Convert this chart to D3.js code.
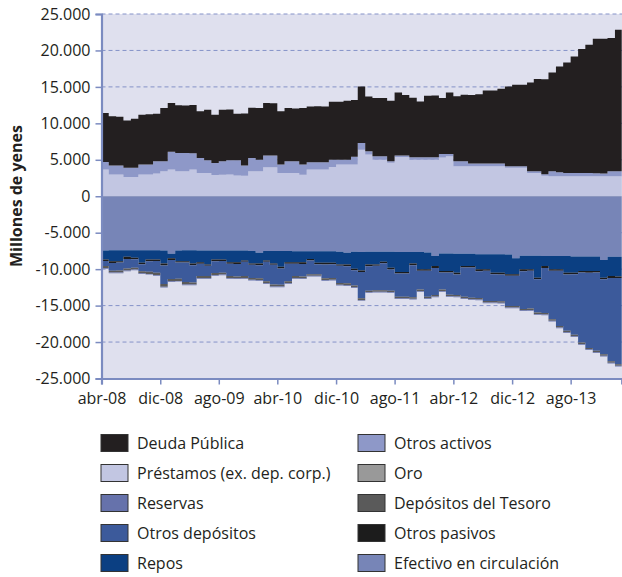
<!DOCTYPE html>
<html><head><meta charset="utf-8">
<script src="https://cdn.jsdelivr.net/npm/d3@7"></script>
<style>
html,body{margin:0;padding:0;background:#fff;}
svg{display:block;font-family:"Open Sans",sans-serif;}
</style></head>
<body><svg id="c" width="622" height="577"></svg>
<script>
// ---- DATA (monthly, abr-2008 ... mar-2014), units as in the chart ----
const startMonth = "2008-04-01";
const nMonths = 72;

// Assets (positive side), stacked upward from 0
const oro = [44,44,44,44,44,44,44,44,44,44,44,44,44,44,44,44,44,44,44,44,44,44,44,44,44,44,44,44,44,44,44,44,44,44,44,44,44,44,44,44,44,44,44,44,44,44,44,44,44,44,44,44,44,44,44,44,44,44,44,44,44,44,44,44,44,44,44,44,44,44,44,44];
const prestamos = [3610,2930,2930,2610,2610,2930,2930,3060,3380,3610,3380,3380,3610,3160,3160,2860,2910,2930,2810,2760,3380,3380,3930,3930,3160,3160,3160,2910,3610,3610,3610,3960,4300,4300,4300,6350,5670,4980,4980,4560,5350,5350,4980,4980,4980,4980,5260,5460,4070,4070,4070,4070,4070,4070,4070,3850,3850,3850,3160,3160,2760,2700,2700,2700,2700,2700,2700,2700,2700,2700,2700,2700];
const otrosActivos = [1030,1230,1230,1240,1250,1370,1370,1690,1370,2450,2520,2520,2250,2060,1730,1670,1850,1960,2080,1400,1840,1580,1600,1600,1140,1590,1590,1390,1010,1010,1010,1020,680,680,1090,920,450,460,460,190,180,180,320,320,320,320,500,300,680,680,370,370,370,370,370,220,220,220,220,220,200,680,560,460,460,460,460,410,360,680,680,680];
const deudaPublica = [6740,6780,6700,6510,6740,6840,6910,6510,7310,6700,6550,6510,6600,6380,6940,6620,7070,6970,6390,7150,6880,7100,7220,7180,7300,7310,7260,7760,7660,7690,7640,7940,7930,8080,7770,7750,7530,7990,7990,8310,8670,8330,8170,7660,8450,8460,7670,8440,8910,9130,9420,9520,10030,10020,10260,10950,11180,11190,12180,12650,13050,13560,14500,15140,15970,16980,17570,18440,18500,18280,19400,19850];

// Liabilities (negative side), magnitudes, stacked downward from 0
const efectivo = [7450,7400,7400,7400,7400,7400,7400,7400,7450,7900,7450,7400,7400,7450,7450,7450,7450,7450,7450,7450,7500,7750,7500,7500,7500,7500,7550,7550,7550,7550,7550,7550,7600,7750,7600,7650,7620,7620,7620,7620,7650,7650,7650,7650,7700,8200,7850,7850,7900,7900,7900,7950,7950,7950,7950,8000,8500,8150,8150,8150,8200,8200,8200,8200,8250,8250,8250,8250,8750,8300,8300,8350];
const repos = [1220,1500,1500,900,1050,1720,1270,1270,1760,600,1450,1500,1810,1600,1900,1220,1220,1600,1600,1350,1710,1460,1300,1710,2170,1550,1500,1500,1050,1570,1570,1570,1750,1600,2340,2550,1730,1730,1380,2180,2750,2750,1560,2380,2330,1380,2410,2410,2600,1680,1680,2080,2080,2540,2540,2700,2200,1880,1880,3020,1380,1830,1830,2290,2240,2010,2010,2010,2420,2650,2700,3510];
const otrosPasivos = [200,250,200,300,200,200,250,200,300,250,200,200,250,200,200,250,200,200,250,200,200,250,200,200,250,200,200,250,200,200,250,200,200,250,200,200,250,200,200,250,200,200,250,200,200,250,200,200,250,200,200,250,200,200,250,200,200,250,200,200,250,200,200,250,200,200,250,200,200,250,200,200];
const otrosDepositos = [710,1070,1070,1300,1150,980,1430,1630,2540,2610,2210,2670,2360,1700,1400,1620,1620,1700,1700,1950,1790,1790,2650,2680,2220,2400,1700,1700,1900,1380,1880,1880,2350,2350,2090,3600,3350,3350,3700,2900,3200,3200,4390,2570,3570,3720,2340,3040,2800,4020,4130,3680,4140,3680,3680,4160,4160,5170,5170,4590,6180,6650,7570,7710,8310,9610,10290,10740,10300,11440,11840,11660];
const depositosTesoro = [250,250,300,300,250,250,300,300,350,300,300,350,300,250,250,250,250,250,250,250,250,250,300,300,250,250,250,250,200,200,250,250,250,250,250,250,200,200,200,200,200,200,200,200,200,200,200,200,200,200,200,200,200,200,200,200,200,200,200,200,200,200,200,200,200,200,200,200,200,200,200,200];
const reservas = [100,100,100,100,100,100,100,100,100,100,100,100,100,100,100,100,100,100,100,100,100,100,100,100,100,100,100,100,100,100,100,100,100,100,100,100,100,100,100,100,100,100,100,100,100,100,100,100,100,100,100,100,100,100,100,100,100,100,100,100,100,100,100,100,100,100,100,100,100,100,100,100];

const yTicks = [25000,20000,15000,10000,5000,0,-5000,-10000,-15000,-20000,-25000];
const gridDashed = [25000,20000,15000,10000,5000,-5000,-10000,-15000,-20000];
const xTickDates = ["2008-04-01","2008-12-01","2009-08-01","2010-04-01","2010-12-01","2011-08-01","2012-04-01","2012-12-01","2013-08-01"];
const xTickLabels = ["abr-08","dic-08","ago-09","abr-10","dic-10","ago-11","abr-12","dic-12","ago-13"];

const series = [
  {key:"oro", label:"Oro", values:oro, sign:1, color:"#999999"},
  {key:"prestamos", label:"Préstamos (ex. dep. corp.)", values:prestamos, sign:1, color:"#c2c6e2"},
  {key:"otrosActivos", label:"Otros activos", values:otrosActivos, sign:1, color:"#8e98c8"},
  {key:"deuda", label:"Deuda Pública", values:deudaPublica, sign:1, color:"#231f20"},
  {key:"efectivo", label:"Efectivo en circulación", values:efectivo, sign:-1, color:"#7785b7"},
  {key:"repos", label:"Repos", values:repos, sign:-1, color:"#0b3f82"},
  {key:"otrosPasivos", label:"Otros pasivos", values:otrosPasivos, sign:-1, color:"#1c1c1c"},
  {key:"otrosDepositos", label:"Otros depósitos", values:otrosDepositos, sign:-1, color:"#3c5a9b"},
  {key:"tesoro", label:"Depósitos del Tesoro", values:depositosTesoro, sign:-1, color:"#5a5a5a"},
  {key:"reservas", label:"Reservas", values:reservas, sign:-1, color:"#6672ab"}
];
const legendLeft = ["deuda","prestamos","reservas","otrosDepositos","repos"];
const legendRight = ["otrosActivos","oro","tesoro","otrosPasivos","efectivo"];

// ---- BUILD ----
const parse = d3.utcParse("%Y-%m-%d");
const months = d3.utcMonth.range(parse(startMonth), d3.utcMonth.offset(parse(startMonth), nMonths));
const table = months.map((d,i)=>{
  const row = {date:d};
  series.forEach(s=>row[s.key] = s.sign*s.values[i]);
  return row;
});
const stacked = d3.stack().keys(series.map(s=>s.key)).offset(d3.stackOffsetDiverging)(table);

const svg = d3.select("#c");
const L = 101.5, R = 621.7, T = 14, B = 378.5;
const x = d3.scaleUtc().domain([parse("2008-04-01"), parse("2014-03-01")]).range([L, R]);
const y = d3.scaleLinear().domain([-25000, 25000]).range([B, T]);

svg.append("rect").attr("x",L).attr("y",T).attr("width",R-L+1).attr("height",B-T).attr("fill","#dfe0ee");

svg.append("g").selectAll("line").data(gridDashed).join("line")
  .attr("x1",L).attr("x2",R+1).attr("y1",d=>y(d)).attr("y2",d=>y(d))
  .attr("stroke","#8592c8").attr("stroke-width",1).attr("stroke-dasharray","4,3");

const area = d3.area().curve(d3.curveStepAfter)
  .x(d=>x(d.data.date)).y0(d=>y(d[0])).y1(d=>y(d[1]));
const colorOf = Object.fromEntries(series.map(s=>[s.key,s.color]));
svg.append("g").selectAll("path").data(stacked).join("path")
  .attr("d",area).attr("fill",d=>colorOf[d.key]);

const fmt = d3.formatLocale({decimal:",",thousands:".",grouping:[3],currency:["","€"],minus:"-"}).format(",d");

const yAxis = svg.append("g").attr("transform",`translate(${L},0)`)
  .call(d3.axisLeft(y).tickValues(yTicks).tickFormat(fmt).tickSize(6).tickPadding(5));
const xAxis = svg.append("g").attr("transform",`translate(0,${B})`)
  .call(d3.axisBottom(x).tickValues(xTickDates.map(parse)).tickFormat((d,i)=>xTickLabels[i]).tickSize(6).tickPadding(8));
[yAxis,xAxis].forEach(g=>{
  g.select(".domain").attr("stroke","#7b8bc0").attr("stroke-width",2.2);
  g.selectAll(".tick line").attr("stroke","#7b8bc0").attr("stroke-width",1.5);
  g.selectAll(".tick text").attr("fill","#231f20").style("font-size","16px").style("font-family","'Open Sans',sans-serif");
});

svg.append("text").attr("transform","translate(22,196) rotate(-90)")
  .attr("text-anchor","middle").attr("fill","#231f20")
  .style("font-size","16px").style("font-weight","bold").text("Millones de yenes");

// legend
const byKey = Object.fromEntries(series.map(s=>[s.key,s]));
[[legendLeft,101],[legendRight,358]].forEach(([keys,lx])=>{
  const g = svg.append("g");
  keys.forEach((k,i)=>{
    const cy = 443 + i*30;
    g.append("rect").attr("x",lx).attr("y",cy-8.5).attr("width",27).attr("height",17)
      .attr("fill",byKey[k].color).attr("stroke","#333").attr("stroke-width",1);
    g.append("text").attr("x",lx+36).attr("y",cy+5.5).attr("fill","#231f20")
      .style("font-size","16px").text(byKey[k].label);
  });
});
</script></body></html>
